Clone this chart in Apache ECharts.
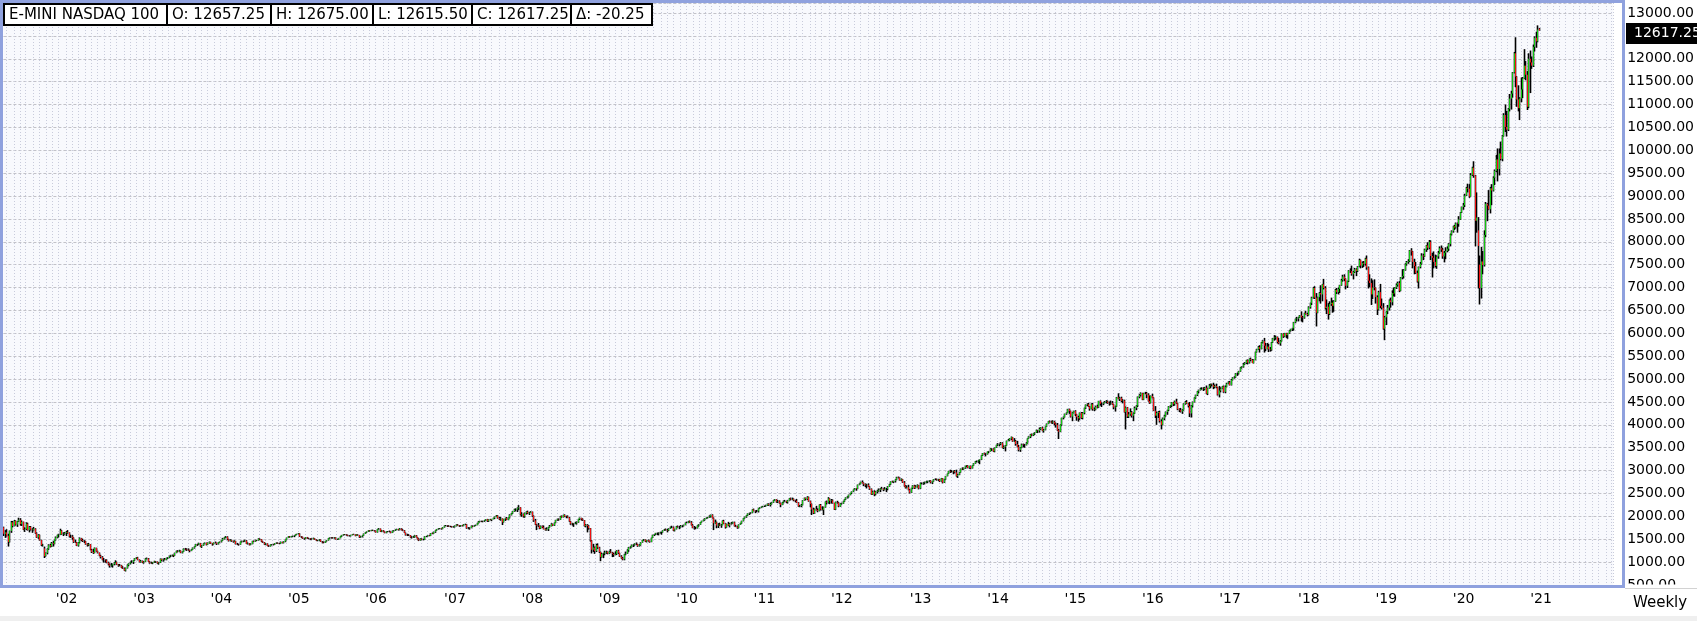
<!DOCTYPE html>
<html>
<head>
<meta charset="utf-8">
<title>E-MINI NASDAQ 100 Weekly</title>
<script src="https://cdn.jsdelivr.net/npm/echarts@6/dist/echarts.min.js"></script>
<style>
html,body{margin:0;padding:0;background:#ffffff;}
#chart{width:1697px;height:621px;}
</style>
</head>
<body>
<div id="chart"></div>
<script>
const instrumentName = 'E-MINI NASDAQ 100';
const periodName = 'Weekly';
const firstWeekUTC = [2001, 2, 12];   // Monday 12 Mar 2001
const emptyWeeksAfter = 49;
const priceMin = 500, priceStep = 500, priceMax = 13218.6;

const weekOpen = [
1760,1620,1650,1575,1440,1680,1870,1790,1900,1820,1890,1925,1830,1880,1710,1720,1840,1700,1770,1710,1700,1730,1630,1540,1590,1480,1370,1300,1130,1200,1290,1370,1340,1420,1400,1480,1540,1590,1600,1690,1610,1620,1640,
1660,1640,1560,1560,1530,1440,1430,1360,1430,1520,1480,1460,1455,1390,1370,1390,1270,1220,1200,1310,1240,1205,1140,1110,1050,1050,1040,990,950,920,930,955,990,1000,945,925,930,880,860,815,870,935,970,995,1000,1040,1085,1100,1050,1005,1025,990,
1010,1070,1080,1010,985,975,995,1015,1005,975,990,1070,1040,1060,1050,1090,1100,1130,1140,1150,1140,1200,1240,1230,1250,1205,1225,1290,1280,1270,1260,1245,1270,1310,1340,1390,1385,1410,1340,1360,1400,1420,1380,1420,1440,1410,1390,1425,1420,1400,1435,1445,
1470,1510,1540,1555,1500,1465,1480,1460,1445,1460,1395,1390,1385,1440,1455,1450,1470,1400,1410,1380,1395,1460,1450,1480,1475,1510,1500,1455,1430,1390,1405,1355,1345,1375,1385,1380,1410,1420,1410,1405,1440,1420,1450,1485,1530,1560,1545,1565,1570,1575,1600,1615,
1625,1560,1545,1520,1510,1540,1520,1515,1500,1505,1520,1490,1470,1475,1490,1445,1430,1425,1460,1475,1520,1535,1530,1525,1535,1500,1495,1525,1560,1590,1605,1600,1590,1575,1570,1590,1610,1600,1575,1600,1590,1545,1560,1580,1620,1650,1665,1690,1680,1695,1690,1680,
1650,1720,1730,1670,1690,1665,1640,1665,1670,1665,1640,1680,1690,1705,1720,1705,1730,1705,1690,1640,1595,1590,1585,1545,1540,1555,1580,1545,1500,1475,1510,1490,1490,1560,1560,1585,1575,1630,1620,1660,1690,1720,1730,1735,1725,1760,1795,1795,1790,1780,1780,1765,
1770,1790,1815,1800,1785,1800,1790,1820,1825,1745,1740,1745,1790,1780,1800,1810,1850,1880,1895,1890,1895,1905,1935,1900,1930,1920,1940,1965,1990,2015,1960,1935,1950,1870,1940,1960,1925,1970,2030,2065,2110,2150,2150,2180,2195,2040,2050,2000,2070,2100,2065,2080,2100,
2010,1910,1820,1800,1790,1735,1785,1760,1720,1700,1720,1760,1785,1830,1800,1860,1920,1935,1930,2000,1980,2030,1995,2000,1970,1890,1840,1830,1840,1850,1870,1940,1965,1935,1915,1790,1810,1790,1740,1470,1270,1320,1240,1370,1320,1220,1110,1180,1190,1210,1225,1190,
1230,1210,1180,1160,1180,1250,1200,1125,1085,1060,1170,1185,1260,1320,1330,1370,1380,1400,1390,1350,1370,1430,1480,1490,1450,1480,1460,1440,1530,1590,1610,1630,1630,1640,1650,1650,1690,1710,1700,1690,1730,1760,1760,1690,1720,1780,1770,1770,1790,1790,1810,1860,
1860,1890,1870,1810,1750,1740,1740,1800,1820,1870,1900,1920,1950,1970,1980,2000,2030,1960,1850,1870,1800,1820,1800,1810,1900,1840,1760,1830,1800,1840,1850,1870,1790,1780,1750,1820,1850,1900,1960,1990,2020,2060,2070,2080,2150,2120,2110,2110,2170,2190,2210,2220,
2220,2240,2270,2250,2270,2300,2350,2370,2320,2330,2290,2250,2300,2330,2330,2310,2350,2390,2370,2380,2350,2340,2300,2220,2230,2250,2350,2400,2380,2420,2330,2270,2150,2070,2160,2140,2120,2250,2150,2140,2200,2320,2300,2390,2340,2350,2290,2150,2310,2300,2220,2270,
2280,2330,2370,2410,2430,2470,2510,2540,2580,2610,2600,2690,2710,2750,2730,2700,2680,2690,2650,2600,2480,2540,2480,2540,2560,2580,2610,2600,2580,2600,2600,2650,2700,2760,2750,2770,2800,2850,2840,2790,2810,2740,2660,2630,2640,2580,2520,2620,2670,2620,2650,2680,2610,
2720,2720,2730,2740,2760,2770,2780,2740,2770,2810,2810,2800,2810,2770,2830,2740,2810,2880,2930,2990,2980,2980,2990,2960,2880,2910,2960,3040,3030,3060,3100,3110,3060,3100,3050,3110,3160,3200,3200,3220,3240,3330,3380,3360,3360,3410,3420,3480,3470,3420,3500,3560,
3570,3580,3600,3500,3520,3550,3650,3670,3700,3730,3640,3650,3580,3520,3450,3500,3570,3560,3560,3600,3700,3740,3790,3770,3810,3830,3880,3870,3910,3940,3870,3890,3960,4020,4080,4070,4050,4070,4030,4000,3880,3850,4000,4150,4170,4240,4260,4340,4300,4180,4260,4300,
4230,4170,4140,4260,4150,4260,4370,4440,4450,4400,4350,4450,4340,4330,4400,4380,4520,4460,4460,4480,4500,4510,4480,4470,4480,4450,4380,4400,4600,4570,4590,4520,4530,4280,4380,4180,4230,4280,4200,4250,4370,4420,4610,4650,4690,4550,4690,4690,4660,4520,4480,4630,
4590,4310,4200,4260,4280,4080,4000,4140,4200,4280,4320,4400,4420,4490,4450,4510,4470,4340,4320,4290,4320,4460,4500,4470,4410,4250,4420,4500,4590,4650,4730,4760,4790,4790,4780,4810,4680,4800,4860,4880,4870,4830,4850,4820,4660,4750,4790,4840,4720,4830,4900,4930,
4870,4980,5030,5040,5120,5120,5170,5250,5270,5320,5350,5410,5360,5440,5420,5350,5420,5590,5650,5700,5660,5800,5830,5730,5660,5710,5650,5640,5800,5890,5910,5920,5810,5780,5830,5990,5930,6000,5960,6000,6060,6090,6110,6240,6310,6320,6350,6390,6350,6340,6440,6420,
6400,6570,6660,6780,6990,6780,6450,6790,6880,6850,7070,6990,6550,6580,6420,6640,6670,6600,6700,6950,6900,6970,7050,7160,7240,7190,7040,7140,7370,7360,7290,7340,7400,7360,7460,7600,7480,7540,7520,7630,7440,7150,7100,6850,7000,6990,6790,6520,6900,6600,6560,6100,6350,
6480,6560,6720,6680,6880,6870,7000,7060,7100,6930,7220,7250,7380,7510,7560,7580,7810,7790,7560,7470,7320,7130,7450,7520,7700,7680,7830,7920,7870,8000,7690,7650,7560,7470,7680,7760,7860,7830,7680,7760,7800,7850,7950,8160,8230,8340,8310,8400,8390,8490,8640,8760,
8800,9010,9180,9160,8990,9460,9620,9450,8460,8250,7500,6990,7570,7490,8150,8830,8790,8710,9170,9120,9400,9550,9800,9590,9930,9810,10310,10770,10510,10450,10900,11130,11240,11700,12120,11610,11110,10920,11130,11330,11570,11850,11650,10950,12000,11920,11850,12260,12460,12380,12657.25
];

const weekHigh = [
1775,1700,1720,1620,1690,1900,1900,1920,1910,1900,1970,1960,1910,1885,1760,1870,1860,1790,1790,1740,1770,1740,1650,1610,1600,1490,1400,1340,1210,1300,1390,1400,1440,1460,1490,1560,1600,1620,1730,1700,1650,1660,1680,
1700,1650,1600,1590,1540,1490,1440,1440,1540,1530,1510,1480,1460,1410,1420,1395,1290,1290,1320,1315,1250,1210,1160,1130,1090,1060,1060,1010,970,980,965,1000,1040,1010,960,960,940,910,880,880,950,975,1010,1040,1045,1090,1110,1115,1060,1045,1035,1025,
1085,1100,1090,1020,1010,1000,1030,1025,1015,1000,1080,1075,1075,1090,1095,1110,1140,1160,1165,1160,1205,1250,1260,1270,1255,1235,1300,1310,1300,1300,1270,1280,1320,1345,1395,1400,1425,1420,1370,1410,1430,1425,1430,1450,1445,1415,1430,1450,1425,1440,1450,1475,
1530,1545,1570,1565,1510,1500,1490,1470,1475,1465,1420,1400,1450,1470,1470,1490,1480,1430,1415,1410,1465,1470,1490,1485,1520,1520,1505,1465,1440,1415,1410,1370,1385,1395,1395,1415,1430,1430,1420,1450,1445,1455,1490,1535,1565,1570,1570,1580,1585,1605,1620,1635,
1630,1570,1555,1530,1545,1550,1530,1525,1520,1535,1525,1500,1485,1500,1495,1460,1450,1465,1480,1525,1540,1545,1545,1545,1540,1510,1530,1565,1595,1610,1615,1610,1600,1590,1595,1615,1620,1605,1605,1610,1595,1570,1585,1625,1655,1670,1695,1700,1705,1710,1700,1690,
1725,1745,1735,1700,1700,1670,1670,1680,1690,1670,1690,1700,1715,1730,1725,1745,1740,1720,1700,1645,1620,1610,1590,1565,1570,1590,1590,1550,1520,1520,1520,1510,1565,1570,1590,1595,1635,1645,1665,1695,1725,1740,1745,1740,1765,1800,1810,1805,1805,1795,1790,1785,
1800,1825,1830,1810,1810,1810,1830,1840,1830,1765,1760,1800,1800,1810,1820,1860,1895,1905,1905,1905,1915,1940,1945,1935,1945,1945,1970,1995,2030,2025,1990,1985,1955,1945,1970,1985,1975,2045,2075,2115,2165,2175,2195,2245,2200,2090,2060,2085,2110,2125,2095,2115,2105,
2020,1945,1835,1855,1795,1800,1800,1800,1740,1760,1770,1810,1850,1840,1865,1925,1950,1955,2010,2020,2035,2045,2015,2020,1985,1900,1860,1850,1880,1890,1945,1975,1970,1955,1920,1830,1830,1805,1745,1480,1400,1340,1400,1410,1335,1230,1205,1200,1250,1250,1230,1250,
1285,1225,1205,1235,1260,1270,1205,1150,1110,1180,1230,1280,1330,1345,1385,1390,1410,1430,1400,1390,1435,1485,1505,1495,1485,1495,1470,1535,1600,1615,1640,1645,1650,1665,1660,1695,1725,1735,1725,1740,1775,1795,1780,1730,1790,1800,1790,1810,1805,1820,1865,1885,
1900,1910,1895,1830,1790,1770,1805,1830,1875,1905,1930,1960,1975,1990,2020,2040,2045,1975,1930,1885,1850,1860,1830,1910,1925,1850,1840,1880,1855,1875,1885,1885,1815,1795,1825,1860,1905,1965,1995,2025,2065,2080,2090,2155,2170,2130,2140,2175,2200,2215,2230,2235,
2255,2280,2285,2300,2310,2355,2380,2375,2360,2350,2300,2310,2345,2360,2340,2360,2400,2410,2410,2390,2360,2380,2310,2250,2270,2355,2410,2410,2440,2430,2345,2280,2190,2170,2230,2175,2260,2270,2220,2210,2325,2345,2420,2395,2380,2370,2295,2320,2340,2310,2285,2300,
2340,2375,2415,2440,2475,2515,2545,2585,2620,2615,2695,2720,2760,2785,2740,2720,2710,2720,2660,2610,2560,2570,2550,2580,2610,2620,2645,2610,2640,2620,2660,2710,2765,2780,2775,2810,2865,2870,2850,2830,2815,2770,2680,2675,2690,2600,2625,2680,2690,2680,2700,2685,2740,
2740,2745,2760,2775,2780,2790,2790,2775,2815,2830,2825,2820,2820,2840,2835,2820,2885,2935,2995,3020,3010,3000,3010,3020,2930,2970,3045,3070,3065,3105,3120,3120,3105,3110,3115,3165,3210,3220,3230,3245,3335,3385,3395,3380,3415,3430,3490,3490,3485,3505,3565,3600,
3590,3625,3620,3550,3560,3655,3690,3710,3745,3735,3710,3670,3650,3560,3510,3590,3590,3580,3620,3705,3750,3800,3810,3815,3840,3895,3890,3940,3950,3960,3910,3965,4030,4085,4095,4090,4100,4090,4050,4040,3910,4010,4155,4180,4245,4270,4350,4355,4310,4275,4310,4320,
4240,4200,4270,4280,4280,4375,4445,4470,4480,4410,4470,4480,4380,4420,4440,4525,4535,4490,4490,4520,4540,4530,4510,4530,4520,4460,4420,4610,4690,4610,4615,4560,4550,4400,4390,4280,4360,4300,4270,4400,4430,4620,4670,4710,4700,4700,4720,4720,4690,4640,4640,4680,
4600,4410,4290,4300,4310,4120,4160,4220,4290,4330,4410,4430,4500,4500,4530,4570,4480,4360,4370,4340,4470,4520,4540,4480,4500,4430,4510,4600,4660,4740,4770,4810,4820,4820,4830,4860,4810,4890,4900,4900,4920,4880,4900,4830,4850,4820,4850,4860,4860,4920,4950,4960,
5000,5040,5060,5130,5140,5180,5260,5280,5350,5370,5420,5430,5450,5470,5440,5430,5600,5660,5720,5740,5810,5850,5900,5790,5790,5770,5700,5810,5900,5960,5950,5930,5900,5850,6000,6000,6010,6010,6010,6070,6100,6120,6250,6320,6360,6360,6400,6480,6380,6450,6490,6450,
6590,6670,6800,7010,7030,6880,6800,6900,7050,7080,7190,7030,6740,6660,6700,6780,6720,6720,6970,6990,7000,7060,7190,7280,7290,7200,7150,7380,7420,7480,7360,7430,7420,7470,7630,7610,7570,7580,7650,7700,7460,7290,7200,7160,7180,7000,6830,6930,7080,6760,6660,6380,6490,
6620,6740,6780,6940,7000,7010,7090,7130,7140,7230,7400,7400,7530,7580,7620,7820,7860,7800,7630,7560,7370,7460,7560,7750,7740,7850,7930,7990,8040,8030,7760,7790,7720,7700,7800,7900,7920,7870,7800,7880,7900,7970,8180,8250,8350,8370,8420,8420,8560,8650,8770,8850,
9050,9200,9270,9260,9500,9640,9760,9460,9080,8540,7700,7890,7800,8250,8870,8850,9130,9200,9260,9430,9580,9900,10040,10040,10190,10330,10810,11000,10860,10920,11230,11300,11710,12150,12470,11620,11420,11160,11590,11600,12210,11950,11730,12120,12180,12050,12310,12490,12590,12730,12675
];

const weekLow = [
1570,1530,1560,1340,1430,1640,1760,1780,1800,1770,1880,1800,1790,1700,1660,1700,1690,1650,1690,1640,1690,1620,1530,1510,1470,1350,1340,1090,1120,1170,1270,1320,1330,1340,1390,1470,1520,1540,1590,1600,1570,1600,1570,
1620,1540,1530,1490,1420,1420,1350,1340,1410,1460,1440,1420,1380,1340,1350,1260,1200,1180,1195,1230,1190,1130,1080,1040,990,990,975,930,880,900,880,930,980,935,900,910,870,850,810,795,860,910,950,980,960,1030,1070,1040,995,990,980,965,
1005,1060,1005,965,965,955,985,985,965,945,980,1020,1010,1040,1040,1070,1085,1110,1125,1110,1135,1195,1215,1225,1195,1190,1220,1260,1245,1250,1215,1240,1265,1295,1335,1355,1375,1335,1310,1355,1390,1365,1375,1405,1400,1360,1385,1410,1375,1385,1425,1430,
1465,1495,1525,1485,1450,1455,1445,1425,1440,1385,1375,1360,1380,1430,1435,1440,1395,1385,1365,1370,1390,1435,1445,1460,1470,1485,1445,1420,1380,1370,1350,1330,1340,1365,1365,1375,1400,1400,1390,1400,1410,1410,1435,1480,1525,1535,1540,1550,1545,1570,1595,1610,
1550,1530,1510,1490,1505,1510,1500,1480,1490,1500,1485,1460,1455,1465,1440,1410,1415,1420,1450,1470,1510,1515,1515,1515,1495,1485,1490,1520,1550,1580,1590,1580,1565,1560,1560,1585,1595,1565,1570,1580,1530,1535,1540,1575,1615,1640,1660,1670,1675,1680,1670,1645,
1645,1710,1660,1655,1655,1630,1630,1655,1655,1630,1635,1670,1680,1700,1690,1695,1695,1680,1635,1580,1570,1570,1535,1515,1530,1535,1540,1495,1460,1470,1480,1475,1485,1545,1555,1565,1570,1610,1615,1640,1685,1710,1720,1710,1720,1755,1785,1770,1770,1765,1755,1755,
1755,1780,1795,1770,1775,1780,1785,1810,1730,1720,1710,1740,1765,1775,1790,1805,1845,1870,1875,1870,1880,1900,1880,1880,1915,1895,1935,1940,1985,1950,1920,1905,1810,1865,1900,1920,1915,1955,2020,2055,2100,2110,2095,2140,2020,1990,1975,1970,2040,2050,2030,2075,1990,
1880,1810,1700,1770,1720,1725,1745,1715,1690,1690,1680,1755,1780,1790,1790,1850,1905,1905,1925,1970,1975,1985,1960,1960,1880,1815,1800,1770,1830,1820,1860,1920,1910,1900,1780,1760,1650,1710,1450,1190,1220,1180,1220,1290,1200,1020,1100,1090,1150,1180,1170,1175,
1200,1110,1115,1150,1155,1180,1115,1075,1040,1040,1150,1180,1225,1295,1320,1330,1360,1375,1335,1340,1360,1425,1465,1440,1430,1450,1425,1435,1525,1570,1595,1590,1585,1625,1600,1645,1680,1690,1650,1680,1725,1745,1680,1670,1715,1755,1720,1755,1760,1780,1805,1850,
1850,1860,1800,1740,1710,1720,1735,1775,1815,1865,1890,1905,1940,1955,1970,1975,1955,1700,1840,1740,1745,1790,1750,1805,1835,1735,1755,1790,1760,1820,1840,1780,1765,1730,1740,1815,1840,1890,1950,1970,2010,2030,2055,2070,2110,2070,2090,2085,2160,2180,2200,2205,
2210,2230,2230,2215,2260,2295,2340,2300,2290,2280,2200,2245,2285,2320,2290,2280,2345,2350,2360,2330,2310,2290,2210,2200,2200,2240,2345,2350,2360,2320,2200,2030,2050,2060,2130,2090,2110,2130,2130,2030,2190,2260,2280,2270,2280,2280,2140,2140,2280,2200,2210,2260,
2275,2320,2360,2390,2410,2460,2490,2530,2570,2560,2595,2680,2700,2720,2660,2640,2610,2640,2580,2470,2470,2440,2460,2500,2540,2530,2590,2550,2570,2530,2570,2645,2690,2740,2730,2740,2790,2830,2780,2770,2730,2650,2610,2610,2570,2500,2515,2600,2600,2610,2630,2590,2600,
2700,2690,2700,2725,2725,2755,2720,2705,2760,2795,2780,2775,2750,2760,2720,2730,2800,2875,2925,2950,2960,2920,2940,2870,2840,2900,2955,3010,3020,3040,3080,3050,3040,3030,3045,3105,3150,3180,3170,3140,3230,3320,3350,3310,3350,3380,3415,3430,3410,3400,3495,3540,
3530,3560,3490,3470,3420,3545,3640,3650,3670,3630,3630,3545,3510,3420,3410,3490,3510,3500,3550,3590,3695,3710,3750,3755,3780,3825,3820,3830,3890,3860,3830,3880,3955,4015,4050,4030,4020,3990,3940,3870,3690,3840,3980,4120,4160,4220,4255,4240,4160,4080,4250,4190,
4090,4070,4110,4130,4120,4230,4350,4410,4390,4310,4340,4310,4300,4320,4360,4370,4420,4390,4430,4470,4470,4460,4420,4440,4440,4340,4290,4395,4560,4520,4500,4470,4270,3900,4150,4150,4200,4160,4080,4240,4320,4390,4580,4620,4540,4540,4670,4580,4510,4460,4470,4580,
4300,4150,4000,4150,4050,3900,3990,4100,4180,4220,4300,4370,4390,4410,4420,4460,4320,4280,4270,4240,4310,4440,4460,4380,4170,4160,4380,4490,4570,4630,4690,4750,4770,4740,4760,4670,4650,4790,4800,4840,4780,4800,4800,4640,4600,4710,4780,4700,4690,4820,4890,4860,
4860,4970,5010,5030,5070,5100,5160,5230,5250,5310,5330,5320,5340,5390,5350,5340,5410,5580,5640,5580,5650,5780,5580,5610,5650,5590,5600,5620,5790,5840,5860,5780,5760,5730,5820,5900,5920,5900,5880,5990,6040,6050,6060,6220,6260,6260,6340,6260,6240,6320,6410,6370,
6390,6540,6620,6760,6750,6150,6440,6700,6650,6700,6960,6520,6420,6300,6400,6600,6450,6470,6690,6860,6850,6880,7040,7130,7140,6960,6990,7120,7320,7260,7180,7320,7250,7340,7450,7420,7430,7450,7480,7390,6980,7010,6620,6750,6940,6650,6400,6500,6550,6520,6080,5850,6180,
6420,6500,6560,6610,6810,6800,6970,7020,6900,6920,7180,7200,7370,7480,7520,7560,7700,7420,7290,7300,7110,6980,7420,7500,7600,7670,7780,7820,7840,7600,7220,7420,7440,7410,7630,7740,7780,7630,7550,7620,7770,7800,7900,8140,8200,8260,8290,8200,8330,8480,8630,8700,
8760,9000,9080,8960,8990,9440,9400,7900,8200,6980,6630,6760,7290,7460,8100,8450,8700,8620,8800,9100,9240,9520,9320,9450,9780,9760,10300,10400,10300,10420,10850,10890,11150,11680,11380,10950,10850,10660,11050,11140,11560,11530,10880,10920,11250,11780,11820,12160,12240,12360,12615.5
];

const weekClose = [
1620,1650,1575,1440,1680,1870,1790,1900,1820,1890,1925,1830,1880,1710,1720,1840,1700,1770,1710,1700,1730,1630,1540,1590,1480,1370,1380,1130,1200,1290,1370,1340,1420,1400,1480,1540,1590,1600,1690,1610,1620,1640,1660,
1640,1560,1560,1530,1440,1430,1360,1430,1520,1480,1460,1455,1390,1370,1390,1270,1220,1200,1310,1240,1205,1140,1110,1050,1050,1040,990,950,920,930,955,990,1000,945,925,930,880,860,815,870,935,970,995,1000,1040,1085,1100,1050,1005,1025,990,1010,
1070,1080,1010,985,975,995,1015,1005,975,990,1070,1040,1060,1050,1090,1100,1130,1140,1150,1140,1200,1240,1230,1250,1205,1225,1290,1280,1270,1260,1245,1270,1310,1340,1390,1385,1410,1340,1360,1400,1420,1380,1420,1440,1410,1390,1425,1420,1400,1435,1445,1470,
1510,1540,1555,1500,1465,1480,1460,1445,1460,1395,1390,1385,1440,1455,1450,1470,1400,1410,1380,1395,1460,1450,1480,1475,1510,1500,1455,1430,1390,1405,1355,1345,1375,1385,1380,1410,1420,1410,1405,1440,1420,1450,1485,1530,1560,1545,1565,1570,1575,1600,1615,1625,
1560,1545,1520,1510,1540,1520,1515,1500,1505,1520,1490,1470,1475,1490,1445,1430,1425,1460,1475,1520,1535,1530,1525,1535,1500,1495,1525,1560,1590,1605,1600,1590,1575,1570,1590,1610,1600,1575,1600,1590,1545,1560,1580,1620,1650,1665,1690,1680,1695,1690,1680,1650,
1720,1730,1670,1690,1665,1640,1665,1670,1665,1640,1680,1690,1705,1720,1705,1730,1705,1690,1640,1595,1590,1585,1545,1540,1555,1580,1545,1500,1475,1510,1490,1490,1560,1560,1585,1575,1630,1620,1660,1690,1720,1730,1735,1725,1760,1795,1795,1790,1780,1780,1765,1770,
1790,1815,1800,1785,1800,1790,1820,1825,1745,1740,1745,1790,1780,1800,1810,1850,1880,1895,1890,1895,1905,1935,1900,1930,1920,1940,1965,1990,2015,1960,1935,1950,1870,1940,1960,1925,1970,2030,2065,2110,2150,2150,2180,2195,2040,2050,2000,2070,2100,2065,2080,2100,2010,
1910,1820,1800,1790,1735,1785,1760,1720,1700,1720,1760,1785,1830,1800,1860,1920,1935,1930,2000,1980,2030,1995,2000,1970,1890,1840,1830,1840,1850,1870,1940,1965,1935,1915,1790,1810,1790,1740,1470,1270,1320,1240,1370,1320,1220,1110,1180,1190,1210,1225,1190,1230,
1210,1180,1160,1180,1250,1200,1125,1085,1060,1170,1185,1260,1320,1330,1370,1380,1400,1390,1350,1370,1430,1480,1490,1450,1480,1460,1440,1530,1590,1610,1630,1630,1640,1650,1650,1690,1710,1700,1690,1730,1760,1760,1690,1720,1780,1770,1770,1790,1790,1810,1860,1860,
1890,1870,1810,1750,1740,1740,1800,1820,1870,1900,1920,1950,1970,1980,2000,2030,1960,1850,1870,1800,1820,1800,1810,1900,1840,1760,1830,1800,1840,1850,1870,1790,1780,1750,1820,1850,1900,1960,1990,2020,2060,2070,2080,2150,2120,2110,2110,2170,2190,2210,2220,2220,
2240,2270,2250,2270,2300,2350,2370,2320,2330,2290,2250,2300,2330,2330,2310,2350,2390,2370,2380,2350,2340,2300,2220,2230,2250,2350,2400,2380,2420,2330,2270,2150,2070,2160,2140,2120,2250,2150,2140,2200,2320,2300,2390,2340,2350,2290,2150,2310,2300,2220,2270,2280,
2330,2370,2410,2430,2470,2510,2540,2580,2610,2600,2690,2710,2750,2730,2700,2680,2690,2650,2600,2480,2540,2480,2540,2560,2580,2610,2600,2580,2600,2600,2650,2700,2760,2750,2770,2800,2850,2840,2790,2810,2740,2660,2630,2640,2580,2520,2620,2670,2620,2650,2680,2610,2720,
2720,2730,2740,2760,2770,2780,2740,2770,2810,2810,2800,2810,2770,2830,2740,2810,2880,2930,2990,2980,2980,2990,2960,2880,2910,2960,3040,3030,3060,3100,3110,3060,3100,3050,3110,3160,3200,3200,3220,3240,3330,3380,3360,3360,3410,3420,3480,3470,3420,3500,3560,3570,
3580,3600,3500,3520,3550,3650,3670,3700,3730,3640,3650,3580,3520,3450,3500,3570,3560,3560,3600,3700,3740,3790,3770,3810,3830,3880,3870,3910,3940,3870,3890,3960,4020,4080,4070,4050,4070,4030,4000,3880,3850,4000,4150,4170,4240,4260,4340,4300,4180,4260,4300,4230,
4170,4140,4260,4150,4260,4370,4440,4450,4400,4350,4450,4340,4330,4400,4380,4520,4460,4460,4480,4500,4510,4480,4470,4480,4450,4380,4400,4600,4570,4590,4520,4530,4280,4380,4180,4230,4280,4200,4250,4370,4420,4610,4650,4690,4550,4690,4690,4660,4520,4480,4630,4590,
4310,4200,4260,4280,4080,4000,4140,4200,4280,4320,4400,4420,4490,4450,4510,4470,4340,4320,4290,4320,4460,4500,4470,4410,4250,4420,4500,4590,4650,4730,4760,4790,4790,4780,4810,4680,4800,4860,4880,4870,4830,4850,4820,4660,4750,4790,4840,4720,4830,4900,4930,4870,
4980,5030,5040,5120,5120,5170,5250,5270,5320,5350,5410,5360,5440,5420,5350,5420,5590,5650,5700,5660,5800,5830,5730,5660,5710,5650,5640,5800,5890,5910,5920,5810,5780,5830,5990,5930,6000,5960,6000,6060,6090,6110,6240,6310,6320,6350,6390,6350,6340,6440,6420,6400,
6570,6660,6780,6990,6780,6450,6790,6880,6850,7070,6990,6550,6580,6420,6640,6670,6600,6700,6950,6900,6970,7050,7160,7240,7190,7040,7140,7370,7360,7290,7340,7400,7360,7460,7600,7480,7540,7520,7630,7440,7150,7100,6850,7000,6990,6790,6520,6900,6600,6560,6100,6350,6480,
6560,6720,6680,6880,6870,7000,7060,7100,6930,7220,7250,7380,7510,7560,7580,7810,7790,7560,7470,7320,7130,7450,7520,7700,7680,7830,7920,7870,8000,7690,7650,7560,7470,7680,7760,7860,7830,7680,7760,7800,7850,7950,8160,8230,8340,8310,8400,8390,8490,8640,8760,8800,
9010,9180,9160,8990,9460,9620,9450,8460,8530,7910,6990,7570,7490,8150,8830,8790,8710,9170,9120,9400,9550,9800,9590,9930,9810,10310,10770,10510,10450,10900,11130,11240,11700,12120,11610,11110,10920,11130,11330,11570,11850,11650,10950,12000,11920,11850,12260,12460,12380,12637.5,12617.25
];

/* ---------- layout / style ---------- */
const FONT = 'DejaVu Sans';
const W = 1697;
const band = 1.4962;
const gridLeft = 3.41, gridTop = 3, gridBottom = 36;
const nData = weekClose.length;
const nTotal = nData + emptyWeeksAfter;
const gridRight = W - gridLeft - nTotal * band;

const DAY = 86400000;
const t0 = Date.UTC(firstWeekUTC[0], firstWeekUTC[1], firstWeekUTC[2]);
const weekDates = [], yearStart = [], monthStart = [];
for (let i = 0; i < nTotal; i++) {
  const mon = new Date(t0 + i * 7 * DAY);
  const sun = new Date(t0 + i * 7 * DAY + 6 * DAY);
  const prevSun = new Date(t0 + (i - 1) * 7 * DAY + 6 * DAY);
  weekDates.push(mon.toISOString().slice(0, 10));
  yearStart.push(i > 0 && sun.getUTCFullYear() !== prevSun.getUTCFullYear());
  monthStart.push(i > 0 && sun.getUTCMonth() !== prevSun.getUTCMonth());
}

const wickData = [], bodyData = [];
for (let i = 0; i < nData; i++) {
  const o = weekOpen[i], c = weekClose[i];
  const h = Math.max(weekHigh[i], o, c), l = Math.min(weekLow[i], o, c);
  wickData.push([o, c, l, h]);
  bodyData.push([o, c, Math.min(o, c), Math.max(o, c)]);
}

const chart = echarts.init(document.getElementById('chart'), null, { renderer: 'canvas' });
chart.setOption({
  animation: false,
  backgroundColor: '#ffffff',
  grid: {
    left: gridLeft, right: gridRight, top: gridTop, bottom: gridBottom,
    show: true, backgroundColor: '#f8f9fd', borderWidth: 0
  },
  xAxis: {
    type: 'category',
    data: weekDates,
    boundaryGap: true,
    axisLine: { show: false },
    axisTick: { show: false },
    axisLabel: {
      interval: (i) => yearStart[i],
      formatter: (v, i) => yearStart[i] ? "'" + String(new Date(t0 + i * 7 * DAY + 6 * DAY).getUTCFullYear()).slice(2) : '',
      color: '#000', fontFamily: FONT, fontSize: 14, margin: 7
    },
    splitLine: {
      show: true,
      interval: (i) => monthStart[i],
      lineStyle: { color: '#c8cbdb', width: 1, type: [1, 2] }
    }
  },
  yAxis: {
    type: 'value',
    position: 'right',
    min: priceMin, max: priceMax, interval: priceStep,
    axisLine: { show: false },
    axisTick: { show: false },
    axisLabel: {
      showMaxLabel: false,
      formatter: (v) => v.toFixed(2),
      color: '#000', fontFamily: FONT, fontSize: 14, margin: 14
    },
    splitLine: { show: true, lineStyle: { color: '#c2c2c8', width: 1, type: [3, 2] } }
  },
  series: [
    {
      type: 'candlestick', name: 'wick', data: wickData, large: false, progressive: 0,
      barWidth: 1, silent: true,
      itemStyle: { color: '#000', color0: '#000', borderColor: '#000', borderColor0: '#000', borderColorDoji: '#000', borderWidth: 1.6 }
    },
    {
      type: 'candlestick', name: 'body', data: bodyData, large: false, progressive: 0,
      barWidth: 1, silent: true,
      itemStyle: { color: '#10c810', color0: '#f01010', borderColor: '#10c810', borderColor0: '#f01010', borderColorDoji: '#000', borderWidth: 1 }
    }
  ]
});

/* ---------- overlays: frame, legend, price tag ---------- */
const lastO = weekOpen[nData - 1], lastH = weekHigh[nData - 1], lastL = weekLow[nData - 1], lastC = weekClose[nData - 1];
const prevC = weekClose[nData - 2];
const legendTexts = [instrumentName, 'O: ' + lastO.toFixed(2), 'H: ' + lastH.toFixed(2), 'L: ' + lastL.toFixed(2), 'C: ' + lastC.toFixed(2), '\u0394: ' + (lastC - prevC).toFixed(2)];
const boxEdges = [4, 167, 271, 373, 472, 571, 652];
const tagY = chart.convertToPixel({ yAxisIndex: 0 }, lastC);

const g = [];
g.push({ type: 'rect', z: 100, shape: { x: 1625, y: 584.5, width: 72, height: 31 }, style: { fill: '#ffffff' } });
g.push({ type: 'rect', z: 100, shape: { x: 0, y: 616, width: W, height: 5 }, style: { fill: '#efefef' } });
g.push({ type: 'line', z: 101, shape: { x1: 1625, y1: 588.5, x2: W, y2: 588.5 }, style: { stroke: '#d2d2d2', lineWidth: 1 } });
g.push({ type: 'rect', z: 110, shape: { x: 1.5, y: 1.5, width: 1622, height: 585 }, style: { fill: 'none', stroke: '#8fa1de', lineWidth: 3 } });
g.push({ type: 'text', z: 110, x: 1633, y: 603, style: { text: periodName, font: '15px "' + FONT + '"', fill: '#000', textVerticalAlign: 'middle', verticalAlign: 'middle' } });
for (let i = 0; i < legendTexts.length; i++) {
  g.push({ type: 'rect', z: 120, shape: { x: boxEdges[i], y: 4, width: boxEdges[i + 1] - boxEdges[i], height: 21 }, style: { fill: '#ffffff', stroke: '#000', lineWidth: 2 } });
  g.push({ type: 'text', z: 121, x: boxEdges[i] + 5, y: 15, style: { text: legendTexts[i], font: '15px "' + FONT + '"', fill: '#000', textVerticalAlign: 'middle', verticalAlign: 'middle' } });
}
g.push({ type: 'rect', z: 120, shape: { x: 1626, y: Math.round(tagY) - 8, width: 71, height: 21 }, style: { fill: '#000' } });
g.push({ type: 'text', z: 121, x: 1634, y: Math.round(tagY) + 2.5, style: { text: lastC.toFixed(2), font: '14px "' + FONT + '"', fill: '#fff', textVerticalAlign: 'middle', verticalAlign: 'middle' } });
chart.setOption({ graphic: g });
</script>
</body>
</html>
